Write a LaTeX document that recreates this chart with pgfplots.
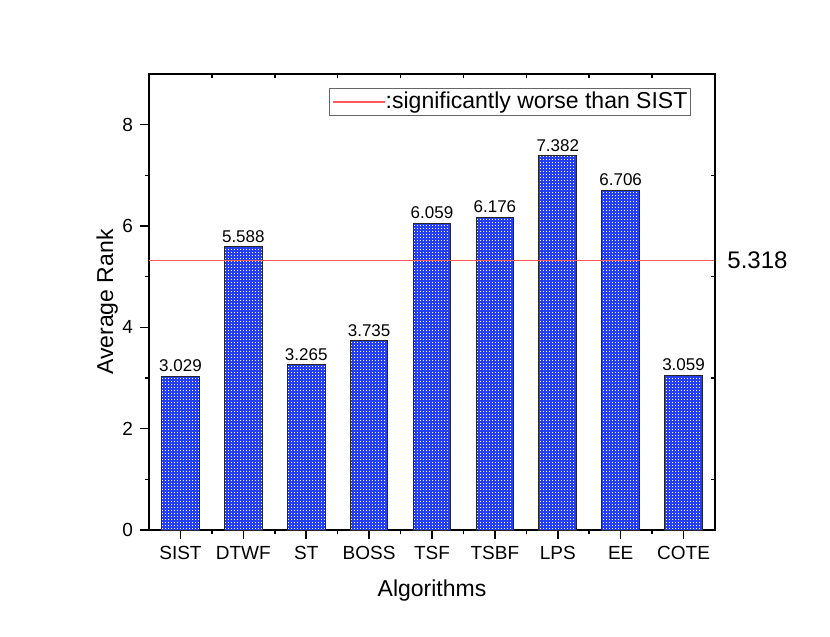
\documentclass[border=0pt]{standalone}
\usepackage{fontspec}
\setmainfont{Liberation Sans}
\usepackage{pgfplots}
\pgfplotsset{compat=1.18}
\usetikzlibrary{patterns.meta}
\tikzdeclarepattern{
  name=finedots,
  type=uncolored,
  bounding box={(0pt,0pt) and (1.5pt,1.5pt)},
  tile size={(1.5pt,1.5pt)},
  code={\fill (0pt,0pt) rectangle (0.5pt,0.5pt);}
}
\definecolor{barblue}{RGB}{35,62,245}
\definecolor{linered}{RGB}{255,90,90}

\begin{document}
\begin{tikzpicture}
\begin{axis}[
  scale only axis, width=283pt, height=228pt,
  xmin=0.5, xmax=9.5, ymin=0, ymax=9,
  clip=false,
  xtick={1,...,9},
  xticklabels={SIST,DTWF,ST,BOSS,TSF,TSBF,LPS,EE,COTE},
  ytick={0,2,4,6,8},
  minor x tick num=1, minor y tick num=1,
  xtick pos=left, ytick pos=left,
  tick align=outside,
  major tick length=4.5pt, minor tick length=2.2pt,
  every tick/.style={black, line width=0.8pt},
  axis line style={line width=1pt},
  /pgf/number format/assume math mode=true,
  tick label style={font=\fontsize{9.5}{11}\selectfont},
  xlabel={Algorithms}, ylabel={Average Rank},
  label style={font=\fontsize{11.5}{13}\selectfont},
  xlabel style={at={(axis description cs:0.5,-0.1463)}, anchor=base},
  ylabel style={at={(axis description cs:-0.0636,0.5)}, anchor=base},
  legend image code/.code={\draw[#1] (0pt,0pt) -- (26pt,0pt);},
  legend style={at={(axis description cs:1,1)}, anchor=north east,
    xshift=-12pt, yshift=-7pt, draw=black!60, line width=0.6pt,
    font=\fontsize{11.5}{13}\selectfont, inner xsep=1.5pt, inner ysep=1pt,
    nodes={inner xsep=0pt, inner ysep=0.8pt}},
]
\addplot[ybar, bar width=0.6, draw=black!85, line width=0.5pt, fill=barblue,
  postaction={pattern=finedots, pattern color=white}, forget plot]
  coordinates {(1,3.029) (2,5.588) (3,3.265) (4,3.735) (5,6.059) (6,6.176) (7,7.382) (8,6.706) (9,3.059)};
\addplot[draw=none, mark=none, point meta=y, forget plot,
  nodes near coords={\pgfmathprintnumber[fixed, fixed zerofill, precision=3]{\pgfplotspointmeta}},
  every node near coord/.append style={font=\fontsize{8.5}{10}\selectfont, inner sep=0pt, anchor=south, yshift=2pt, text=black}]
  coordinates {(1,3.029) (2,5.588) (3,3.265) (4,3.735) (5,6.059) (6,6.176) (7,7.382) (8,6.706) (9,3.059)};
\addplot[linered, line width=0.6pt] coordinates {(0.5,5.318) (9.5,5.318)};
\addlegendentry{:significantly worse than SIST}
\node[anchor=west, inner sep=0pt, font=\fontsize{12}{14}\selectfont, xshift=6pt] at (axis cs:9.5,5.318) {5.318};
\end{axis}
\begin{axis}[
  scale only axis, width=283pt, height=228pt,
  xmin=0.5, xmax=9.5, ymin=0, ymax=9,
  axis x line*=top, axis y line*=right,
  xtick={1.5,2.5,3.5,4.5,5.5,6.5,7.5,8.5}, ytick={1,3,5,7},
  xticklabels={}, yticklabels={},
  tick align=inside, major tick length=2.2pt,
  every tick/.style={black, line width=0.8pt},
  axis line style={line width=1pt},
]
\end{axis}
\pgfresetboundingbox
\path[use as bounding box] ([shift={(-74.5pt,-53pt)}]current axis.south west) rectangle ([shift={(57.5pt,37pt)}]current axis.north east);
\end{tikzpicture}
\end{document}
